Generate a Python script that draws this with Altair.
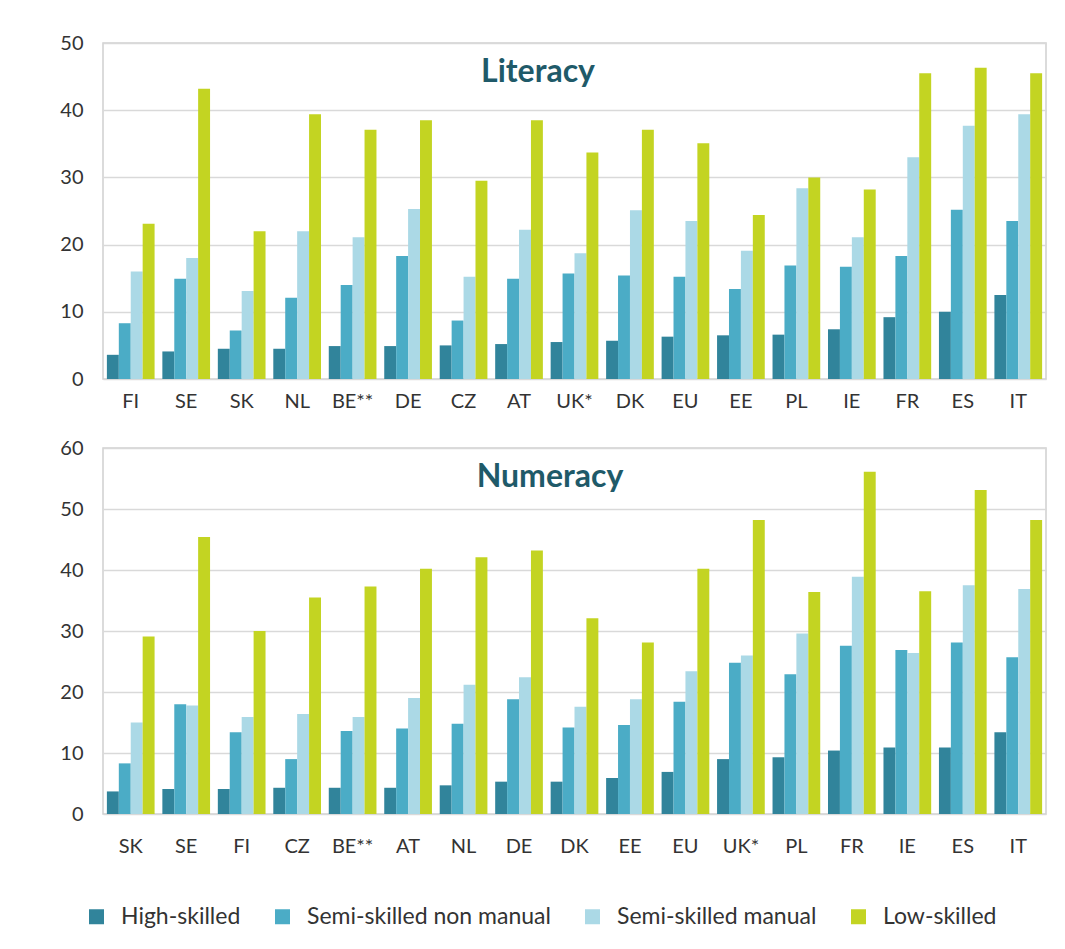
import altair as alt
import pandas as pd

groups = ["High-skilled", "Semi-skilled non manual", "Semi-skilled manual", "Low-skilled"]
colors = ["#31849B", "#4BACC6", "#ABD9E6", "#C3D422"]

lit_countries = ["FI", "SE", "SK", "NL", "BE**", "DE", "CZ", "AT", "UK*", "DK", "EU", "EE", "PL", "IE", "FR", "ES", "IT"]
lit_high = [3.6, 4.1, 4.5, 4.5, 4.9, 4.9, 5.0, 5.2, 5.5, 5.7, 6.3, 6.5, 6.6, 7.4, 9.2, 10.0, 12.5]
lit_semi_nm = [8.3, 14.9, 7.2, 12.1, 14.0, 18.3, 8.7, 14.9, 15.7, 15.4, 15.2, 13.4, 16.9, 16.7, 18.3, 25.2, 23.5]
lit_semi_m = [16.0, 18.0, 13.1, 22.0, 21.1, 25.3, 15.2, 22.2, 18.7, 25.1, 23.5, 19.1, 28.4, 21.1, 33.0, 37.7, 39.4]
lit_low = [23.1, 43.2, 22.0, 39.4, 37.1, 38.5, 29.5, 38.5, 33.7, 37.1, 35.1, 24.4, 30.0, 28.2, 45.5, 46.3, 45.5]

num_countries = ["SK", "SE", "FI", "CZ", "BE**", "AT", "NL", "DE", "DK", "EE", "EU", "UK*", "PL", "FR", "IE", "ES", "IT"]
num_high = [3.7, 4.1, 4.1, 4.3, 4.3, 4.3, 4.7, 5.3, 5.3, 5.9, 6.9, 9.0, 9.3, 10.4, 10.9, 10.9, 13.4]
num_semi_nm = [8.3, 18.0, 13.4, 9.0, 13.6, 14.0, 14.8, 18.8, 14.2, 14.6, 18.4, 24.8, 22.9, 27.6, 26.9, 28.1, 25.7]
num_semi_m = [15.0, 17.8, 15.9, 16.4, 15.9, 19.0, 21.2, 22.4, 17.6, 18.8, 23.4, 26.0, 29.6, 38.9, 26.4, 37.5, 36.9]
num_low = [29.1, 45.4, 30.0, 35.5, 37.3, 40.2, 42.1, 43.2, 32.1, 28.1, 40.2, 48.2, 36.4, 56.1, 36.5, 53.1, 48.2]

lit_ticks = [0, 10, 20, 30, 40, 50]
num_ticks = [0, 10, 20, 30, 40, 50, 60]

FONT = "Lato"
LABEL_COLOR = "#333333"
TITLE_COLOR = "#1F5A69"


def make_df(countries, series):
    rows = []
    for g, vals in zip(groups, series):
        for c, v in zip(countries, vals):
            rows.append({"country": c, "group": g, "value": v})
    return pd.DataFrame(rows)


def panel(df, countries, ticks, title, w, h, label_pad, title_x, title_y):
    bars = alt.Chart(df).mark_bar().encode(
        x=alt.X("country:N", sort=countries, title=None,
                scale=alt.Scale(paddingInner=0.14, paddingOuter=0.07),
                axis=alt.Axis(labelAngle=0, labelPadding=label_pad, ticks=False, domain=False,
                              labelFontSize=20, labelFont=FONT, labelColor=LABEL_COLOR)),
        xOffset=alt.XOffset("group:N", sort=groups),
        y=alt.Y("value:Q", title=None,
                scale=alt.Scale(domain=[ticks[0], ticks[-1]], nice=False),
                axis=alt.Axis(values=ticks, ticks=False, domain=False, labelPadding=20,
                              labelFontSize=20, labelFont=FONT, labelColor=LABEL_COLOR,
                              gridColor="#D9D9D9", gridWidth=1.5)),
        color=alt.Color("group:N", sort=groups,
                        scale=alt.Scale(domain=groups, range=colors),
                        legend=alt.Legend(title=None, orient="none", direction="horizontal",
                                          legendX=-18, legendY=862,
                                          symbolType="square", symbolSize=225,
                                          symbolStrokeWidth=0, labelLimit=0,
                                          labelFontSize=23, labelFont=FONT,
                                          labelColor=LABEL_COLOR, columnPadding=30,
                                          labelOffset=13)),
    )
    txt = alt.Chart(pd.DataFrame({"t": [title]})).mark_text(
        fontSize=32, fontWeight="bold", font=FONT, color=TITLE_COLOR, baseline="middle", align="center"
    ).encode(text="t:N", x=alt.value(title_x), y=alt.value(title_y))
    return alt.layer(bars, txt).properties(width=w, height=h)


lit_df = make_df(lit_countries, [lit_high, lit_semi_nm, lit_semi_m, lit_low])
num_df = make_df(num_countries, [num_high, num_semi_nm, num_semi_m, num_low])

top = panel(lit_df, lit_countries, lit_ticks, "Literacy", 943, 336, 12, 435, 29)
bottom = panel(num_df, num_countries, num_ticks, "Numeracy", 943, 366, 22, 447, 29)

chart = alt.vconcat(top, bottom, spacing=25).resolve_scale(color="shared").properties(
    padding={"left": 51, "top": 24, "right": 5, "bottom": 5},
    background="white",
).configure_view(stroke="#CFCFCF", strokeWidth=1.5)

chart.save("out.html", embed_options={"renderer": "svg", "actions": False})
